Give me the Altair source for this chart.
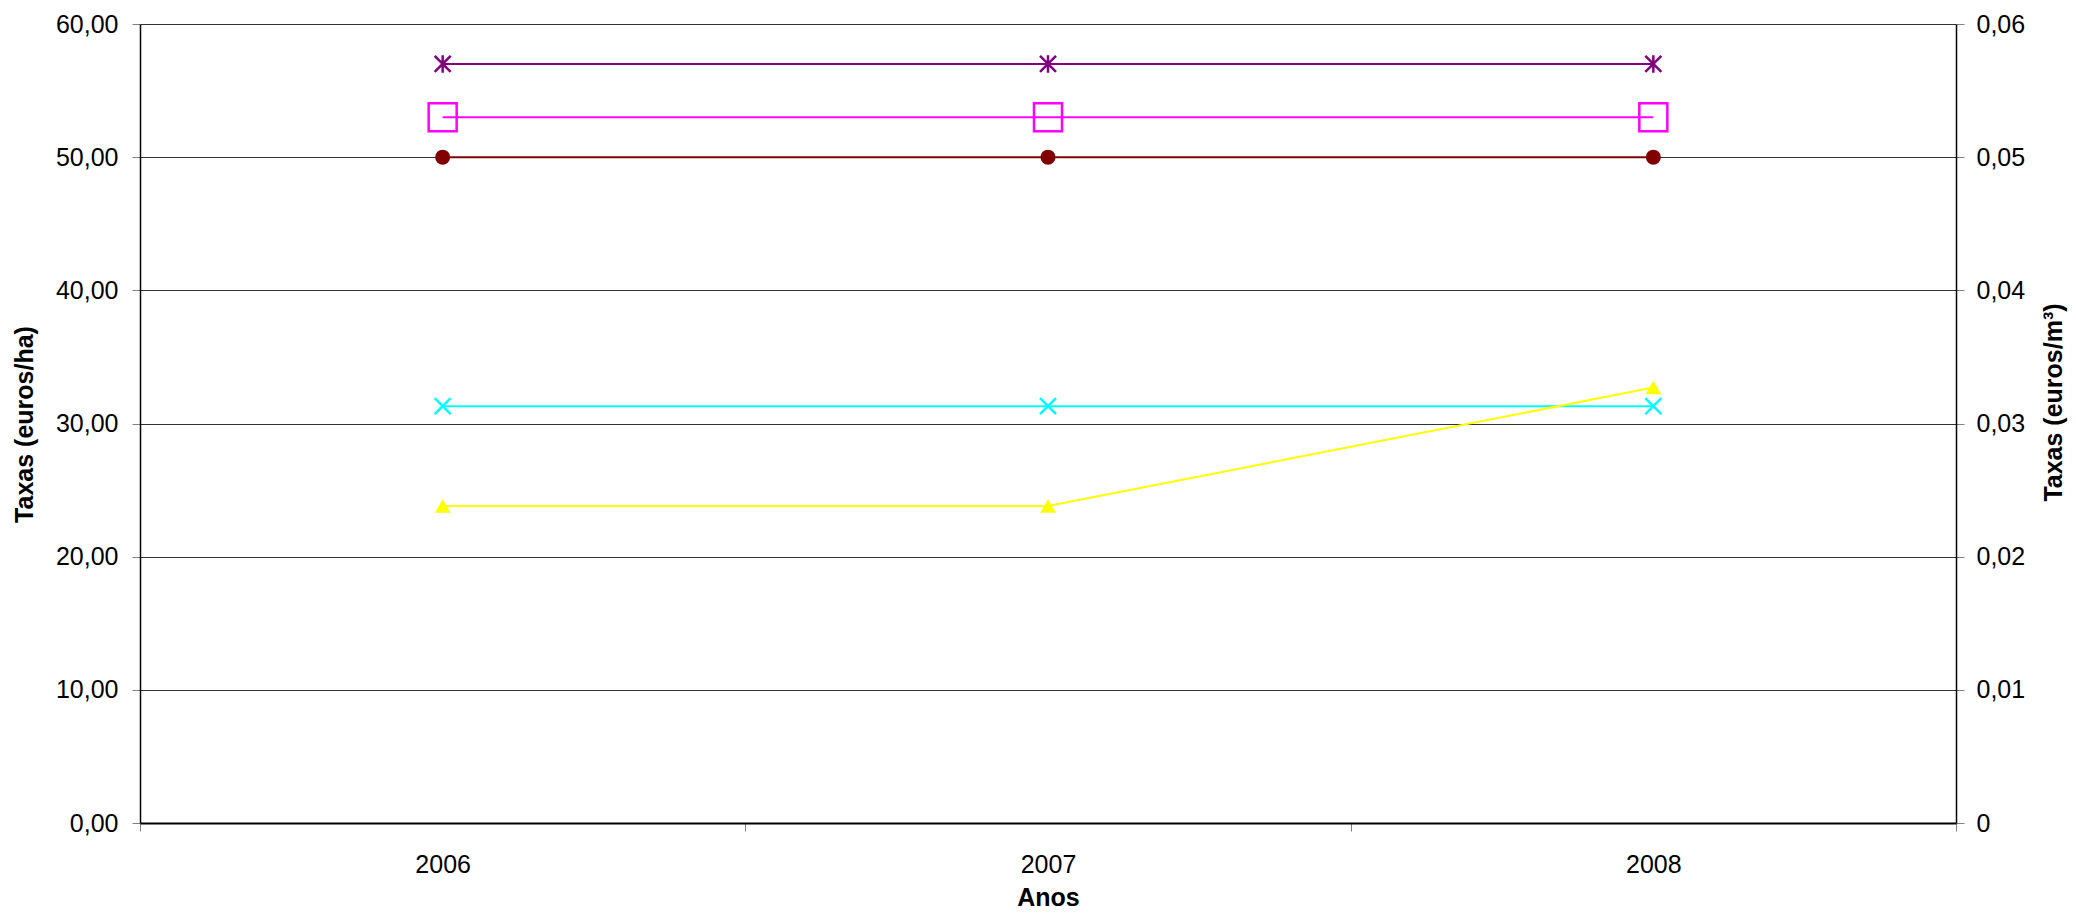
import altair as alt
import pandas as pd

# ---- data ----
years = ["2006", "2007", "2008"]
purple_vals = [57.0, 57.0, 57.0]
magenta_vals = [53.0, 53.0, 53.0]
darkred_vals = [50.0, 50.0, 50.0]
cyan_vals = [31.3, 31.3, 31.3]
yellow_vals = [23.8, 23.8, 32.7]

left_ticks = [0, 10, 20, 30, 40, 50, 60]
right_ticks = [0, 0.01, 0.02, 0.03, 0.04, 0.05, 0.06]

FONT = "Liberation Sans"
W, H = 1816, 799

x_axis = alt.Axis(
    orient="bottom", tickBand="extent", labelAngle=0, grid=False,
    tickSize=8, tickColor="#808080", domainColor="#000000", domainWidth=2,
    labelFont=FONT, labelFontSize=25, labelColor="#000000", labelPadding=21,
    title="Anos", titleFont=FONT, titleFontSize=25, titleFontWeight="bold",
    titleColor="#000000", titleX=W / 2, titleY=74, titleBaseline="middle",
    titleAlign="center",
)

y_axis = alt.Axis(
    orient="left", values=left_ticks,
    labelExpr="replace(format(datum.value, '.2f'), '.', ',')",
    grid=True, gridColor="#333333", gridWidth=1,
    tickSize=8, tickColor="#808080", domainColor="#000000", domainWidth=1.5,
    labelFont=FONT, labelFontSize=25, labelColor="#000000", labelPadding=14,
    title="Taxas (euros/ha)", titleFont=FONT, titleFontSize=25,
    titleFontWeight="bold", titleColor="#000000", titleAngle=270,
    titleX=-116, titleY=400, titleAlign="center", titleBaseline="middle",
)

y2_axis = alt.Axis(
    orient="right", values=right_ticks,
    labelExpr="datum.value == 0 ? '0' : replace(format(datum.value, '.2f'), '.', ',')",
    grid=False, tickSize=8, tickColor="#808080", domainColor="#000000",
    domainWidth=1.5, labelFont=FONT, labelFontSize=25, labelColor="#000000",
    labelPadding=12, title="Taxas (euros/m³)", titleFont=FONT,
    titleFontSize=25, titleFontWeight="bold", titleColor="#000000",
    titleAngle=270, titleX=97, titleY=378, titleAlign="center",
    titleBaseline="middle",
)

x_enc = alt.X(
    "year:O",
    scale=alt.Scale(type="band", domain=years, paddingInner=0, paddingOuter=0),
    bandPosition=0.5,
    axis=x_axis,
)
y_scale = alt.Scale(domain=[0, 60], nice=False, zero=True)

X_PATH = "M-1,-1L1,1M1,-1L-1,1"
STAR_PATH = "M-1,-1L1,1M1,-1L-1,1M0,-1.1L0,1.1"

series = [
    (purple_vals, "#800080", STAR_PATH, False, 256, 2.5),
    (magenta_vals, "#FF00FF", "square", False, 784, 2.5),
    (darkred_vals, "#800000", "circle", True, 225, 0),
    (cyan_vals, "#00FFFF", X_PATH, False, 256, 2.5),
    (yellow_vals, "#FFFF00", "triangle-up", True, 240, 0),
]

layers = []
for vals, color, shape, filled, size, sw in series:
    df = pd.DataFrame({"year": years, "v": vals})
    base = alt.Chart(df)
    line = base.mark_line(color=color, strokeWidth=2).encode(
        x=x_enc, y=alt.Y("v:Q", scale=y_scale, axis=y_axis)
    )
    pt_kwargs = dict(shape=shape, size=size, filled=filled, opacity=1)
    if filled:
        pt_kwargs.update(fill=color, stroke=color, strokeWidth=0)
    else:
        pt_kwargs.update(stroke=color, strokeWidth=sw, fill="transparent")
    pts = base.mark_point(**pt_kwargs).encode(
        x=x_enc, y=alt.Y("v:Q", scale=y_scale, axis=y_axis)
    )
    layers += [line, pts]

left = alt.layer(*layers)

right_df = pd.DataFrame({"year": years, "r": [0.0, 0.0, 0.0]})
right = alt.Chart(right_df).mark_point(opacity=0).encode(
    x=x_enc,
    y=alt.Y("r:Q", scale=alt.Scale(domain=[0, 0.06], nice=False), axis=y2_axis),
)

chart = (
    alt.layer(left, right)
    .resolve_scale(y="independent")
    .properties(
        width=W, height=H,
        padding={"left": 132, "top": 16, "right": 112, "bottom": 88},
        autosize=alt.AutoSizeParams(type="none"),
        background="white",
    )
    .configure_view(stroke=None)
)

chart.save("out.html", embed_options={"renderer": "svg", "actions": False})
